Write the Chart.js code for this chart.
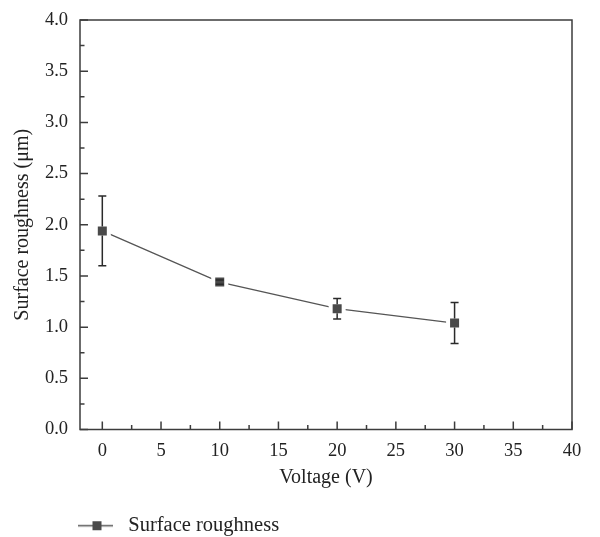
<!DOCTYPE html>
<html><head><meta charset="utf-8">
<script src="https://cdn.jsdelivr.net/npm/chart.js@4"></script>
<style>html,body{margin:0;padding:0;background:#fff}canvas{display:block}</style>
</head><body>
<canvas id="c" width="600" height="537"></canvas>
<script>
const voltages = [0, 10, 20, 30];
const roughness = [1.94, 1.44, 1.18, 1.04];
const roughnessErr = [0.34, 0.02, 0.10, 0.20];
const xTickValues = [0, 5, 10, 15, 20, 25, 30, 35, 40];
const yTickValues = [0, 0.5, 1.0, 1.5, 2.0, 2.5, 3.0, 3.5, 4.0];
const seriesName = 'Surface roughness';
const xTitle = 'Voltage (V)';
const yTitle = 'Surface roughness (μm)';

const FONT = "'Liberation Serif', 'Times New Roman', serif";
const AXIS = '#3c3c3c';
const TEXT = '#222';
const MARK = '#4a4a4a';
const HALF = 4.5; // half side of visible marker

function legendGlyph() {
  const c = document.createElement('canvas');
  c.width = 105; c.height = 13;
  const g = c.getContext('2d');
  g.strokeStyle = '#555'; g.lineWidth = 1.3;
  g.beginPath(); g.moveTo(70, 6.5); g.lineTo(105, 6.5); g.stroke();
  g.fillStyle = MARK; g.fillRect(84.5, 2, 9, 9);
  return c;
}
const glyph = legendGlyph();

const errorBars = {
  id: 'errorBars',
  afterDatasetsDraw(chart) {
    const { ctx, scales: { x, y } } = chart;
    ctx.save();
    ctx.strokeStyle = '#2a2a2a'; ctx.lineWidth = 1.5;
    voltages.forEach((v, i) => {
      const px = x.getPixelForValue(v);
      const py = y.getPixelForValue(roughness[i]);
      const top = y.getPixelForValue(roughness[i] + roughnessErr[i]);
      const bot = y.getPixelForValue(roughness[i] - roughnessErr[i]);
      ctx.beginPath();
      if (top < py - HALF) { ctx.moveTo(px, top); ctx.lineTo(px, py - HALF); }
      if (bot > py + HALF) { ctx.moveTo(px, py + HALF); ctx.lineTo(px, bot); }
      ctx.moveTo(px - 4, top); ctx.lineTo(px + 4, top);
      ctx.moveTo(px - 4, bot); ctx.lineTo(px + 4, bot);
      ctx.stroke();
    });
    ctx.restore();
  }
};

const frame = {
  id: 'frame',
  beforeDatasetsDraw(chart) {
    const { ctx, chartArea: a, scales: { x, y } } = chart;
    ctx.save();
    ctx.strokeStyle = AXIS; ctx.lineWidth = 1.5;
    ctx.strokeRect(a.left, a.top, a.right - a.left, a.bottom - a.top);
    ctx.beginPath();
    xTickValues.forEach((v, i) => {
      const px = x.getPixelForValue(v);
      ctx.moveTo(px, a.bottom); ctx.lineTo(px, a.bottom - 8);
      if (i < xTickValues.length - 1) {
        const m = x.getPixelForValue((v + xTickValues[i + 1]) / 2);
        ctx.moveTo(m, a.bottom); ctx.lineTo(m, a.bottom - 4.5);
      }
    });
    yTickValues.forEach((v, i) => {
      const py = y.getPixelForValue(v);
      ctx.moveTo(a.left, py); ctx.lineTo(a.left + 8, py);
      if (i < yTickValues.length - 1) {
        const m = y.getPixelForValue((v + yTickValues[i + 1]) / 2);
        ctx.moveTo(a.left, m); ctx.lineTo(a.left + 4.5, m);
      }
    });
    ctx.stroke();
    ctx.restore();
  }
};

new Chart(document.getElementById('c'), {
  type: 'line',
  data: {
    datasets: [{
      label: seriesName,
      data: voltages.map((v, i) => ({ x: v, y: roughness[i] })),
      borderColor: '#555',
      borderWidth: 1.3,
      backgroundColor: MARK,
      pointStyle: 'rect',
      pointRadius: 9.2,
      pointBorderWidth: 4,
      pointBorderColor: '#fff',
      pointBackgroundColor: MARK,
      tension: 0
    }]
  },
  options: {
    responsive: false,
    animation: false,
    events: [],
    layout: { padding: { top: 20, right: 28, left: 0, bottom: -9 } },
    plugins: {
      tooltip: { enabled: false },
      legend: {
        position: 'bottom',
        align: 'start',
        labels: {
          usePointStyle: true,
          pointStyleWidth: 115,
          padding: 3,
          color: TEXT,
          font: { family: FONT, size: 20.5 },
          generateLabels: (chart) => [{
            text: seriesName,
            pointStyle: glyph,
            fillStyle: MARK,
            strokeStyle: '#555',
            lineWidth: 0,
            hidden: false,
            datasetIndex: 0,
            fontColor: TEXT
          }]
        }
      }
    },
    scales: {
      x: {
        type: 'linear',
        min: -1.9,
        max: 40,
        afterBuildTicks: (s) => { s.ticks = xTickValues.map(value => ({ value })); },
        grid: { display: false },
        border: { display: false },
        ticks: { color: TEXT, font: { family: FONT, size: 18.5 }, padding: 2.5, maxRotation: 0 },
        title: { display: true, text: xTitle, color: TEXT, font: { family: FONT, size: 20 }, padding: { top: 4, bottom: 23 } },
        afterFit: (s) => { s.height = 83; }
      },
      y: {
        type: 'linear',
        min: 0,
        max: 4,
        afterBuildTicks: (s) => { s.ticks = yTickValues.map(value => ({ value })); },
        grid: { display: false },
        border: { display: false },
        ticks: { color: TEXT, font: { family: FONT, size: 18.5 }, padding: 4, callback: (v) => Number(v).toFixed(1) },
        title: { display: true, text: yTitle, color: TEXT, font: { family: FONT, size: 20 }, padding: { top: 11, bottom: 4 } },
        afterFit: (s) => { s.width = 80; }
      }
    }
  },
  plugins: [frame, errorBars]
});
</script>
</body></html>
